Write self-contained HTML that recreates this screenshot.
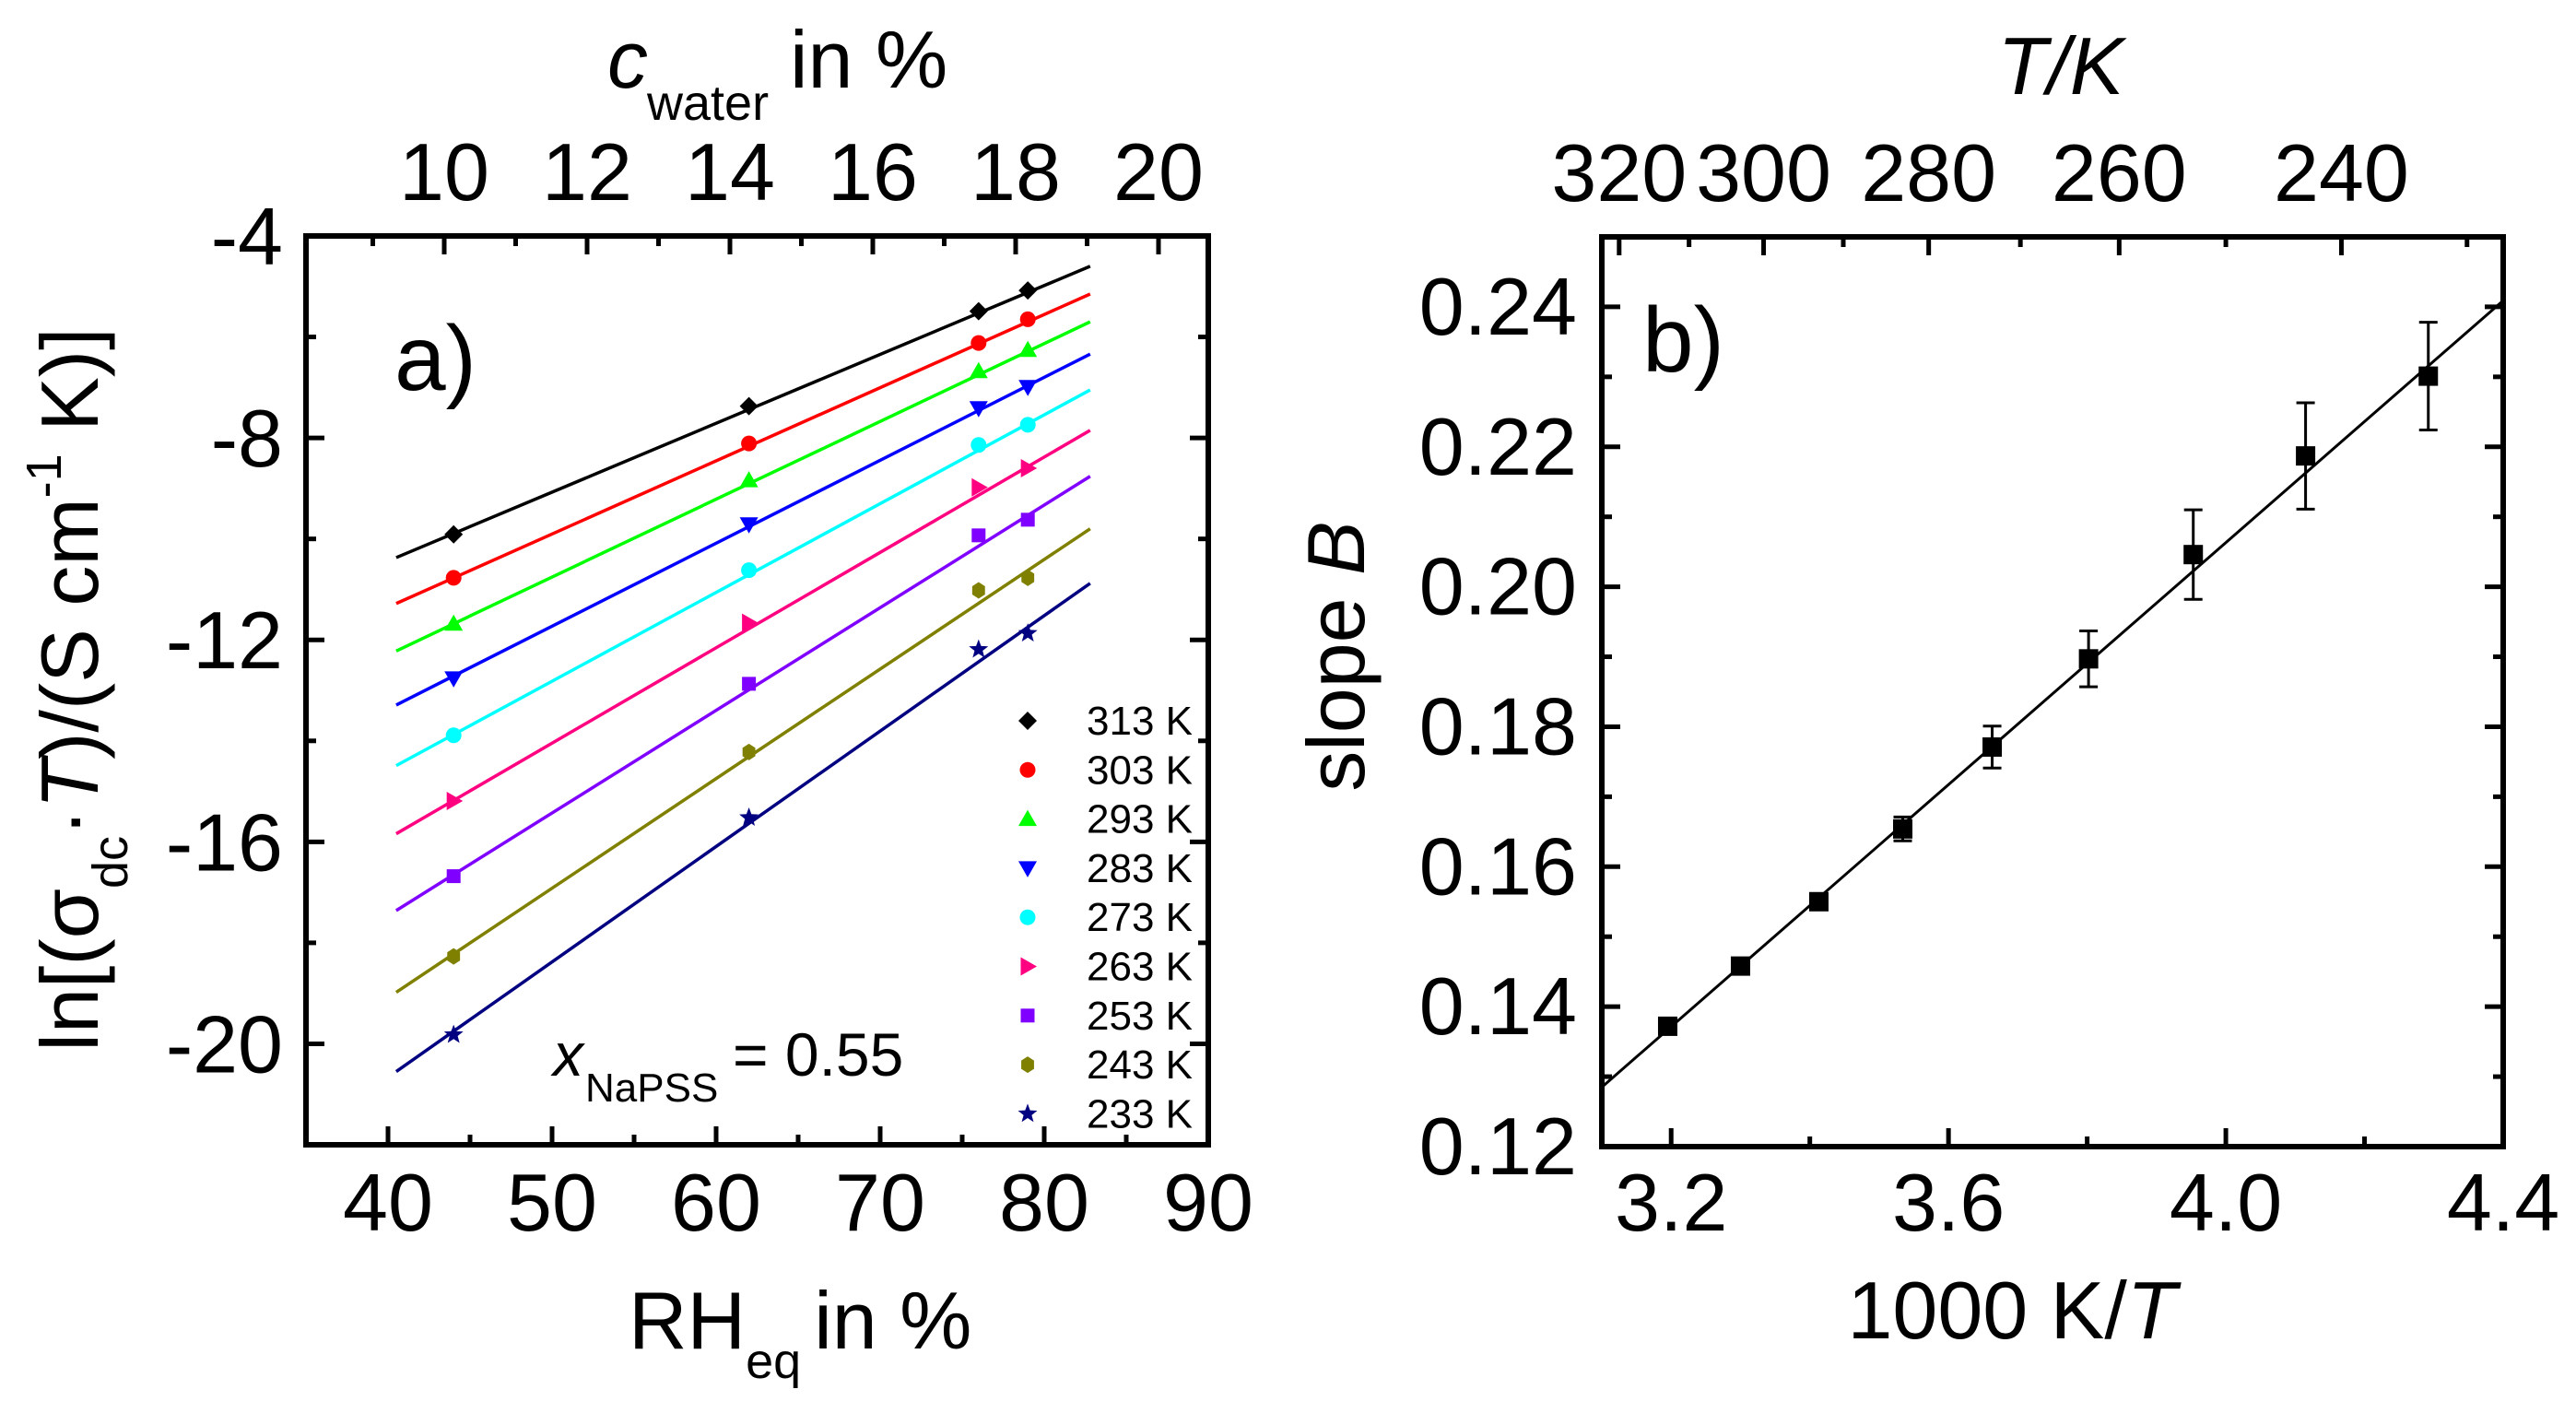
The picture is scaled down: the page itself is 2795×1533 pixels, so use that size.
<!DOCTYPE html>
<html><head><meta charset="utf-8"><style>
html,body{margin:0;padding:0;background:#fff}
svg{display:block}
text{font-family:"Liberation Sans",Arial,sans-serif;fill:#000}
</style></head><body>
<svg id="fig" width="2795" height="1533" viewBox="0 0 2795 1533" xmlns="http://www.w3.org/2000/svg">
<g id="pa"></g>
<g id="pb"></g>
<!-- panel a static text -->
<text x="428" y="423" font-size="100">a)</text>
<text y="95" font-size="88"><tspan x="659" font-style="italic">c</tspan><tspan x="702" y="130" font-size="54">water</tspan><tspan x="857" y="95">in %</tspan></text>
<text y="1463" font-size="88"><tspan x="682">RH</tspan><tspan dy="32" font-size="54">eq</tspan><tspan dy="-32" dx="14">in %</tspan></text>
<text transform="translate(106,748) rotate(-90)" text-anchor="middle" font-size="88">ln[(σ<tspan font-size="54" dy="32">dc</tspan><tspan dy="-32">·</tspan><tspan font-style="italic">T</tspan>)/(S cm<tspan font-size="54" dy="-40">-1</tspan><tspan dy="40"> K)]</tspan></text>
<text y="1167" font-size="66"><tspan x="600" font-style="italic">x</tspan><tspan x="635" dy="28" font-size="44">NaPSS</tspan><tspan x="795" dy="-28">= 0.55</tspan></text>
<!-- panel b static text -->
<text x="1782" y="403" font-size="100">b)</text>
<text x="2236" y="102" font-size="88" text-anchor="middle" font-style="italic">T/K</text>
<text x="2183" y="1452" font-size="88" text-anchor="middle">1000 K/<tspan font-style="italic">T</tspan></text>
<text transform="translate(1480,712) rotate(-90)" text-anchor="middle" font-size="88">slope <tspan font-style="italic">B</tspan></text>
</svg>
<script>
// ---------- Panel a data ----------
const rhValues = [44, 62, 76, 79];
const tempLabels = ['313 K','303 K','293 K','283 K','273 K','263 K','253 K','243 K','233 K'];
const s313 = [-9.91, -7.37, -5.49, -5.08];
const s303 = [-10.77, -8.11, -6.12, -5.65];
const s293 = [-11.68, -8.84, -6.68, -6.26];
const s283 = [-12.76, -9.71, -7.41, -6.99];
const s273 = [-13.89, -10.62, -8.14, -7.74];
const s263 = [-15.19, -11.66, -8.98, -8.60];
const s253 = [-16.68, -12.87, -9.93, -9.62];
const s243 = [-18.27, -14.22, -11.02, -10.77];
const s233 = [-19.82, -15.52, -12.19, -11.87];
const fitRange = [40.5, 82.8];
const fitStart = [-10.37, -11.28, -12.22, -13.29, -14.49, -15.84, -17.36, -18.98, -20.55];
const fitEnd = [-4.60, -5.15, -5.70, -6.34, -7.05, -7.85, -8.76, -9.80, -10.88];
const xTicksA = [40, 50, 60, 70, 80, 90];
const yTicksA = [-4, -8, -12, -16, -20];
const topTicksA = [10, 12, 14, 16, 18, 20];
// ---------- Panel b data ----------
const invT = [3.195, 3.300, 3.413, 3.534, 3.663, 3.802, 3.953, 4.115, 4.292];
const slopeB = [0.1372, 0.1458, 0.1550, 0.1654, 0.1771, 0.1897, 0.2046, 0.2187, 0.2301];
const slopeErr = [0.0010, 0.0008, 0.0008, 0.0017, 0.0030, 0.0040, 0.0064, 0.0076, 0.0077];
const fitBx = [3.1, 4.4];
const fitBy = [0.1285, 0.2409];
const xTicksB = [3.2, 3.6, 4.0, 4.4];
const yTicksB = [0.12, 0.14, 0.16, 0.18, 0.20, 0.22, 0.24];
const topTicksB = [320, 300, 280, 260, 240];

const NS = 'http://www.w3.org/2000/svg';
function mk(tag, attrs, parent){const e=document.createElementNS(NS,tag);for(const k in attrs)e.setAttribute(k,attrs[k]);parent.appendChild(e);return e;}

// ---------- Panel a ----------
const A = {l:332,r:1311,t:256,b:1242,x0:35,x1:90,y0:-22,y1:-4};
const ax = v => A.l + (v-A.x0)/(A.x1-A.x0)*(A.r-A.l);
const ay = v => A.b - (v-A.y0)/(A.y1-A.y0)*(A.b-A.t);
const cw = c => 482 + (c-10)*77.5; // c_water top axis
const pa = document.getElementById('pa');
const seriesA = [s313,s303,s293,s283,s273,s263,s253,s243,s233];
const colorsA = ['#000000','#ff0000','#00ff00','#0000ff','#00ffff','#ff0080','#8000ff','#808000','#000080'];
const shapesA = ['diamond','circle','up','down','circle','right','square','hex','star'];

function marker(shape,x,y,r,color,parent){
  let e;
  if(shape==='circle'){e=mk('circle',{cx:x,cy:y,r:r*0.85,fill:color},parent);}
  else if(shape==='square'){e=mk('rect',{x:x-r*0.75,y:y-r*0.75,width:r*1.5,height:r*1.5,fill:color},parent);}
  else {
    let pts=[];
    if(shape==='diamond')pts=[[0,-r],[r,0],[0,r],[-r,0]];
    else if(shape==='up')pts=[[0,-r],[r,r*0.75],[-r,r*0.75]];
    else if(shape==='down')pts=[[0,r],[r,-r*0.75],[-r,-r*0.75]];
    else if(shape==='right')pts=[[r,0],[-r*0.75,r],[-r*0.75,-r]];
    else if(shape==='hex'){for(let i=0;i<6;i++){const a=Math.PI/2+i*Math.PI/3;pts.push([Math.cos(a)*r*0.8,Math.sin(a)*r*0.9]);}}
    else if(shape==='star'){for(let i=0;i<10;i++){const a=-Math.PI/2+i*Math.PI/5;const rr=i%2?r*0.42:r;pts.push([Math.cos(a)*rr,Math.sin(a)*rr]);}}
    e=mk('polygon',{points:pts.map(p=>(x+p[0])+','+(y+p[1])).join(' '),fill:color},parent);
  }
  return e;
}

// fit lines
seriesA.forEach((s,i)=>{
  const ln=mk('line',{x1:ax(fitRange[0]),y1:ay(fitStart[i]),x2:ax(fitRange[1]),y2:ay(fitEnd[i]),stroke:colorsA[i],'stroke-width':3.5},pa);
  
  
});
// points
seriesA.forEach((s,i)=>{
  s.forEach((v,j)=>{
    const m=marker(shapesA[i],ax(rhValues[j]),ay(v),shapesA[i]==='star'?11:10,colorsA[i],pa);
    
    
  });
});
// legend
tempLabels.forEach((t,i)=>{
  const y=782+i*53.3;
  const m=marker(shapesA[i],1115,y,shapesA[i]==='star'?11:10,colorsA[i],pa);
  
  
  const tx=mk('text',{x:1179,y:y+15,'font-size':44},pa);
  tx.textContent=t;
  
  
});
// frame a
const fa=mk('rect',{x:A.l,y:A.t,width:A.r-A.l,height:A.b-A.t,fill:'none',stroke:'#000','stroke-width':6},pa);


// ticks a
for(let v=40;v<=90;v+=5){const L=(v%10===0)?20:11;const x=ax(v);
  mk('line',{x1:x,y1:A.b,x2:x,y2:A.b-L,stroke:'#000','stroke-width':5},pa);}
for(let v=-20;v<=-4;v+=2){const L=(v%4===0)?20:11;const y=ay(v);
  mk('line',{x1:A.l,y1:y,x2:A.l+L,y2:y,stroke:'#000','stroke-width':5},pa);
  mk('line',{x1:A.r,y1:y,x2:A.r-L,y2:y,stroke:'#000','stroke-width':5},pa);}
for(let c=9;c<=20;c+=1){const L=(c%2===0)?20:11;const x=cw(c);
  mk('line',{x1:x,y1:A.t,x2:x,y2:A.t+L,stroke:'#000','stroke-width':5},pa);}
xTicksA.forEach(v=>{const t=mk('text',{x:ax(v),y:1335,'font-size':88,'text-anchor':'middle'},pa);t.textContent=v;
  
  });
yTicksA.forEach(v=>{const t=mk('text',{x:307,y:ay(v)+31,'font-size':88,'text-anchor':'end'},pa);t.textContent=String(v).replace('-','-');
  
  });
topTicksA.forEach(v=>{const t=mk('text',{x:cw(v),y:217,'font-size':88,'text-anchor':'middle'},pa);t.textContent=v;
  
  });

// ---------- Panel b ----------
const B = {l:1738,r:2716,t:257,b:1244,x0:3.1,x1:4.4,y0:0.12,y1:0.25};
const bx = v => B.l + (v-B.x0)/(B.x1-B.x0)*(B.r-B.l);
const by = v => B.b - (v-B.y0)/(B.y1-B.y0)*(B.b-B.t);
const pb = document.getElementById('pb');
const fl=mk('line',{x1:bx(fitBx[0]),y1:by(fitBy[0]),x2:bx(fitBx[1]),y2:by(fitBy[1]),stroke:'#000','stroke-width':3},pb);


invT.forEach((x,i)=>{
  const cx=bx(x), y=slopeB[i], e=slopeErr[i];
  const g=mk('g',{},pb);
  
  
  mk('line',{x1:cx,y1:by(y-e),x2:cx,y2:by(y+e),stroke:'#000','stroke-width':3},g);
  mk('line',{x1:cx-10,y1:by(y-e),x2:cx+10,y2:by(y-e),stroke:'#000','stroke-width':3},g);
  mk('line',{x1:cx-10,y1:by(y+e),x2:cx+10,y2:by(y+e),stroke:'#000','stroke-width':3},g);
  const r=mk('rect',{x:cx-10.5,y:by(y)-10.5,width:21,height:21,fill:'#000'},pb);
  
  
});
const fb=mk('rect',{x:B.l,y:B.t,width:B.r-B.l,height:B.b-B.t,fill:'none',stroke:'#000','stroke-width':6},pb);


for(let k=0;k<=6;k++){const v=3.2+k*0.2;const L=(k%2===0)?20:11;const x=bx(v);
  mk('line',{x1:x,y1:B.b,x2:x,y2:B.b-L,stroke:'#000','stroke-width':5},pb);}
for(let k=0;k<=12;k++){const v=0.12+k*0.01;const L=(k%2===0)?20:11;const y=by(v);
  mk('line',{x1:B.l,y1:y,x2:B.l+L,y2:y,stroke:'#000','stroke-width':5},pb);
  mk('line',{x1:B.r,y1:y,x2:B.r-L,y2:y,stroke:'#000','stroke-width':5},pb);}
for(let T=320;T>=230;T-=10){const L=(T%20===0)?20:11;const x=bx(1000/T);
  mk('line',{x1:x,y1:B.t,x2:x,y2:B.t+L,stroke:'#000','stroke-width':5},pb);}
xTicksB.forEach(v=>{const t=mk('text',{x:bx(v),y:1335,'font-size':88,'text-anchor':'middle'},pb);t.textContent=v.toFixed(1);
  
  });
yTicksB.forEach(v=>{const t=mk('text',{x:1711,y:by(v)+30,'font-size':88,'text-anchor':'end'},pb);t.textContent=v.toFixed(2);
  
  });
topTicksB.forEach(v=>{const t=mk('text',{x:bx(1000/v),y:218,'font-size':88,'text-anchor':'middle'},pb);t.textContent=v;
  
  });
</script>
</body></html>
